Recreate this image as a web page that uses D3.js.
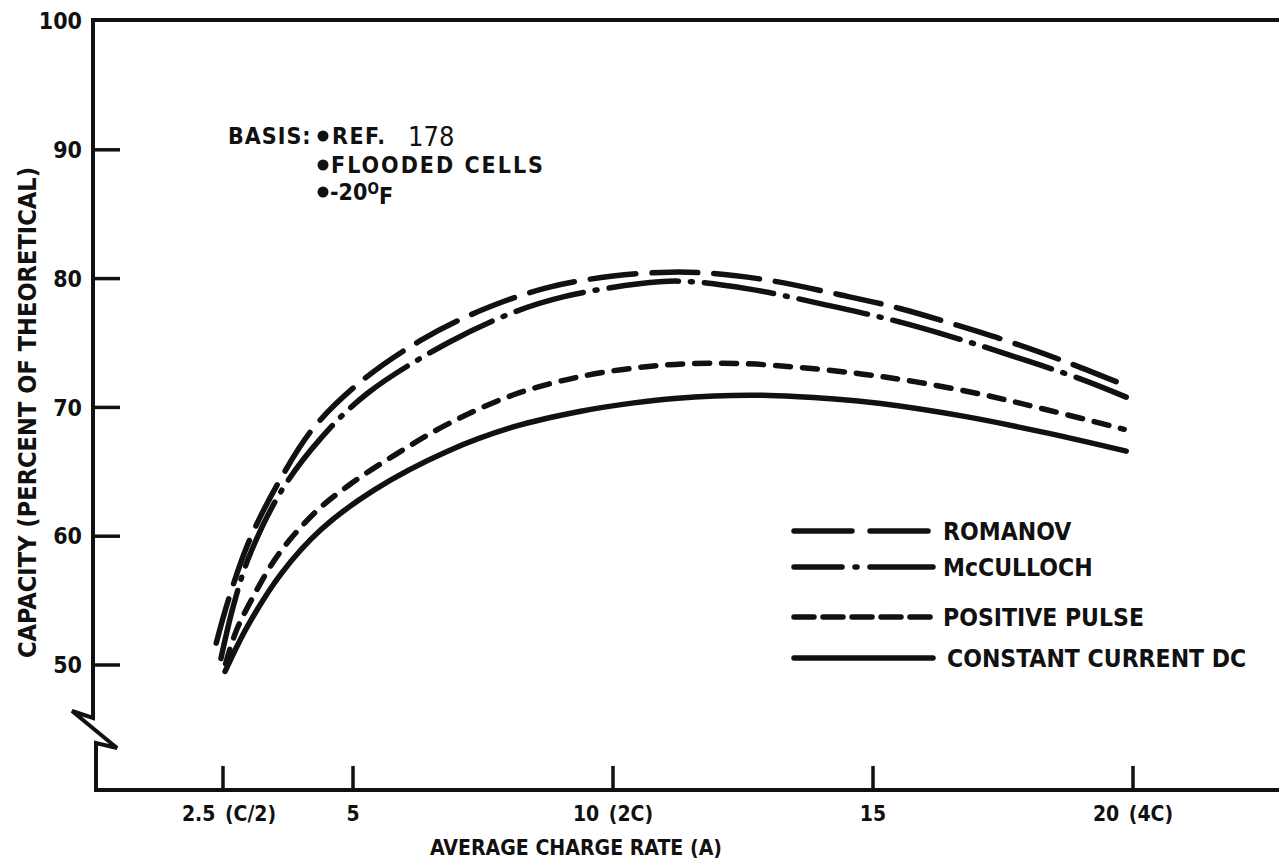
<!DOCTYPE html>
<html>
<head>
<meta charset="utf-8">
<script src="https://cdn.jsdelivr.net/npm/d3@7"></script>
<style>
  html, body { margin: 0; padding: 0; background: #fff; }
  svg { display: block; }
  text { font-family: "DejaVu Sans Condensed", "DejaVu Sans", sans-serif; font-weight: bold; fill: #111; }
</style>
</head>
<body>
<svg id="chart" width="1279" height="860"></svg>
<script>
// ---------------- data ----------------
const xTickValues = [2.5, 5, 10, 15, 20];
const xTickLabels = ["2.5 (C/2)", "5", "10 (2C)", "15", "20 (4C)"];
const yTickValues = [100, 90, 80, 70, 60, 50];
const yTickLabels = ["100", "90", "80", "70", "60", "50"];

const seriesNames = ["ROMANOV", "McCULLOCH", "POSITIVE PULSE", "CONSTANT CURRENT DC"];

const romanovX = [2.37, 2.6, 3.0, 3.6, 4.26, 5.15, 6.3, 7.5, 8.74, 10.0, 11.1, 11.9, 13.1, 14.3, 15.5, 16.6, 17.7, 18.8, 19.92];
const romanovY = [51.7, 55.0, 59.6, 64.4, 68.5, 72.0, 75.2, 77.6, 79.3, 80.2, 80.5, 80.4, 79.8, 78.8, 77.7, 76.4, 75.0, 73.4, 71.6];

const mccullochX = [2.46, 2.7, 3.0, 3.62, 4.38, 5.28, 6.82, 8.1, 9.06, 10.5, 11.3, 12.6, 13.94, 15.35, 16.5, 17.6, 19.0, 19.87];
const mccullochY = [50.5, 54.6, 58.4, 63.5, 67.6, 71.1, 75.0, 77.4, 78.6, 79.6, 79.8, 79.2, 78.1, 76.8, 75.5, 74.1, 72.2, 70.8];

const pulseX = [2.55, 2.75, 3.04, 3.55, 4.26, 4.9, 5.8, 6.82, 8.1, 9.38, 10.5, 11.5, 12.5, 13.6, 14.77, 15.8, 17.1, 18.36, 19.83];
const pulseY = [50.1, 52.6, 55.0, 58.5, 61.8, 63.9, 66.3, 68.7, 71.0, 72.4, 73.1, 73.4, 73.4, 73.1, 72.6, 72.0, 71.0, 69.8, 68.3];

const dcX = [2.54, 2.97, 3.62, 4.38, 5.41, 6.82, 8.1, 9.38, 10.4, 11.18, 12.65, 14.26, 15.15, 16.76, 18.36, 19.87];
const dcY = [49.5, 53.0, 57.1, 60.5, 63.6, 66.6, 68.5, 69.7, 70.35, 70.7, 70.95, 70.65, 70.3, 69.3, 68.0, 66.6];

const basisLines = ["REF.", "FLOODED CELLS", "-20"];

// ---------------- layout ----------------
const svg = d3.select("#chart");
const W = 1279;
const x = d3.scaleLinear().domain([0, 20]).range([93, 1133]);
const y = d3.scaleLinear().domain([50, 100]).range([665, 21]);
const yAxisBottom = 40.3;   // value drawn at the bottom (below the break)
const x0 = x(0);
const yb = y(yAxisBottom);

// Frame: top line, y axis with break, bottom axis
svg.append("line").attr("x1", x0 - 2).attr("x2", W).attr("y1", y(100) - 1).attr("y2", y(100) - 1)
  .attr("stroke", "#111").attr("stroke-width", 4);

const y50 = y(50);
const axisPath = [
  [x0, y(100) - 3], [x0, y50 + 53], [x0 - 21, y50 + 46], [x0 + 24, y50 + 83], [x0 + 3, y50 + 78], [x0 + 3, yb]
];
svg.append("path").attr("d", d3.line()(axisPath)).attr("fill", "none")
  .attr("stroke", "#111").attr("stroke-width", 4).attr("stroke-linejoin", "miter");
svg.append("line").attr("x1", x0 + 1).attr("x2", W).attr("y1", yb).attr("y2", yb)
  .attr("stroke", "#111").attr("stroke-width", 4);

// y ticks
const yt = svg.append("g");
yTickValues.forEach((v, i) => {
  if (v !== 100) {
    yt.append("line").attr("x1", x0).attr("x2", x0 + 27).attr("y1", y(v)).attr("y2", y(v))
      .attr("stroke", "#111").attr("stroke-width", 3.5);
  }
  yt.append("text").attr("x", x0 - 11).attr("y", y(v)).attr("dy", "0.36em")
    .attr("text-anchor", "end").style("font-size", "23px").text(yTickLabels[i]);
});

// x ticks
const xt = svg.append("g");
xTickValues.forEach((v, i) => {
  xt.append("line").attr("x1", x(v)).attr("x2", x(v)).attr("y1", yb).attr("y2", yb - 24)
    .attr("stroke", "#111").attr("stroke-width", 3.5);
  xt.append("text").attr("x", x(v) + (i === 0 ? 6 : 0)).attr("y", yb + 31)
    .attr("text-anchor", "middle").style("font-size", "21px").style("word-spacing", "3px")
    .text(xTickLabels[i]);
});

// axis titles
svg.append("text").attr("x", 430).attr("y", 855).style("font-size", "22px")
  .attr("textLength", 292).attr("lengthAdjust", "spacingAndGlyphs")
  .text("AVERAGE CHARGE RATE (A)");
svg.append("text").attr("transform", "translate(36,658) rotate(-90)")
  .style("font-size", "24.5px").attr("textLength", 491).attr("lengthAdjust", "spacingAndGlyphs")
  .text("CAPACITY (PERCENT OF THEORETICAL)");

// ---------------- curves ----------------
const styles = [
  { dash: "46,16", legendDash: "58,18" },
  { dash: "70,12,2,12", legendDash: "48,13,2,13,200" },
  { dash: "15,12", legendDash: "20,9" },
  { dash: null, legendDash: null }
];
const seriesData = [
  d3.zip(romanovX, romanovY),
  d3.zip(mccullochX, mccullochY),
  d3.zip(pulseX, pulseY),
  d3.zip(dcX, dcY)
];
const line = d3.line().x(d => x(d[0])).y(d => y(d[1])).curve(d3.curveCatmullRom.alpha(0.5));
seriesData.forEach((s, i) => {
  svg.append("path").attr("d", line(s)).attr("fill", "none")
    .attr("stroke", "#111").attr("stroke-width", 5.5).attr("stroke-linecap", "round")
    .attr("stroke-dasharray", styles[i].dash);
});

// ---------------- legend ----------------
const legendRows = [531, 567, 617, 658];
const lg = svg.append("g");
seriesNames.forEach((name, i) => {
  lg.append("line").attr("x1", 794).attr("x2", 933).attr("y1", legendRows[i]).attr("y2", legendRows[i])
    .attr("stroke", "#111").attr("stroke-width", 5.5).attr("stroke-linecap", "round")
    .attr("stroke-dasharray", styles[i].legendDash);
  lg.append("text").attr("x", i === 3 ? 947 : 943).attr("y", legendRows[i]).attr("dy", "0.36em")
    .style("font-size", "24.5px").text(name);
});

// ---------------- basis note ----------------
const note = svg.append("g");
const noteRows = [136, 165, 192];
note.append("text").attr("x", 228).attr("y", noteRows[0]).attr("dy", "0.36em")
  .style("font-size", "23px").style("letter-spacing", "1px").text("BASIS:");
noteRows.forEach((ry, i) => {
  note.append("circle").attr("cx", 323).attr("cy", ry).attr("r", 5.5).attr("fill", "#111");
});
const t0 = note.append("text").attr("x", 332).attr("y", noteRows[0]).attr("dy", "0.36em")
  .style("font-size", "23px").style("letter-spacing", "1.5px");
t0.append("tspan").text(basisLines[0]);
t0.append("tspan").attr("x", 408).style("font-weight", "normal").style("font-size", "27px")
  .style("letter-spacing", "0px").attr("dy", "0.05em").text("178");
note.append("text").attr("x", 331).attr("y", noteRows[1]).attr("dy", "0.36em")
  .style("font-size", "23px").style("letter-spacing", "2px").text(basisLines[1]);
const t2 = note.append("text").attr("x", 330).attr("y", noteRows[2]).attr("dy", "0.36em")
  .style("font-size", "23px");
t2.append("tspan").text(basisLines[2]);
t2.append("tspan").attr("dy", "-0.45em").style("font-size", "15px").text("O");
t2.append("tspan").attr("dy", "0.45em").text("F");
</script>
</body>
</html>
